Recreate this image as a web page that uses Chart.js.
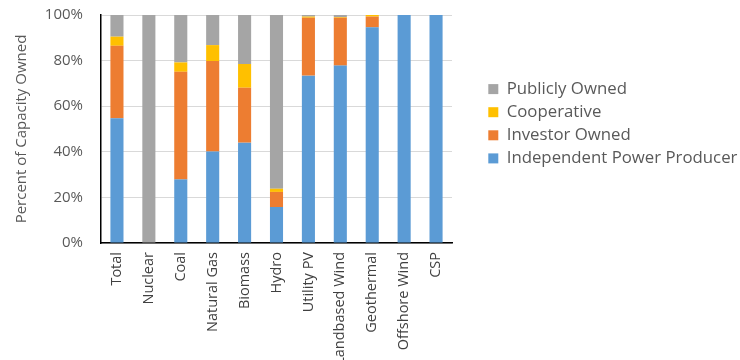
<!DOCTYPE html>
<html>
<head>
<meta charset="utf-8">
<script src="https://cdn.jsdelivr.net/npm/chart.js@4/dist/chart.umd.min.js"></script>
<style>
  html, body { margin: 0; padding: 0; background: #fff; }
  #wrap { width: 740px; height: 360px; position: relative; overflow: hidden; }
</style>
</head>
<body>
<div id="wrap"><canvas id="ownChart"></canvas></div>
<script>
/* Ownership share of capacity by technology (stacked to 100%) */
const categories = ["Total", "Nuclear", "Coal", "Natural Gas", "Biomass", "Hydro", "Utility PV", "Landbased Wind", "Geothermal", "Offshore Wind", "CSP"];
const independentPower = [54.7, 0, 27.9, 40.1, 44.0, 15.8, 73.4, 77.8, 94.6, 100, 100];
const investorOwned    = [31.8, 0, 47.2, 39.7, 24.1, 6.6, 25.4, 21.0, 4.7, 0, 0];
const cooperative      = [4.0, 0, 4.1, 7.0, 10.4, 1.4, 0.5, 0.3, 0.7, 0, 0];
const publiclyOwned    = [9.5, 100, 20.8, 13.2, 21.5, 76.2, 0.7, 0.9, 0, 0, 0];
const yTicks = [0, 20, 40, 60, 80, 100];

const FONT = "'Open Sans', sans-serif";
const GREY_TEXT = "#595959";

const ds = (label, data, color) => ({
  label, data, backgroundColor: color, borderWidth: 0,
  barPercentage: 0.41, categoryPercentage: 1,
});

new Chart(document.getElementById("ownChart"), {
  type: "bar",
  data: {
    labels: categories,
    datasets: [
      ds("Independent Power Producer", independentPower, "#5B9BD5"),
      ds("Investor Owned", investorOwned, "#ED7D31"),
      ds("Cooperative", cooperative, "#FFC000"),
      ds("Publicly Owned", publiclyOwned, "#A5A5A5"),
    ]
  },
  options: {
    responsive: true, maintainAspectRatio: false, animation: false,
    layout: { padding: { top: 3, right: 0, bottom: 0, left: 0 } },
    plugins: {
      tooltip: { enabled: false },
      legend: {
        position: "right", reverse: true, align: "start", maxWidth: 258,
        // empty title only pushes the items down
        title: { display: true, text: "", padding: { top: 57, bottom: 0 } },
        labels: { boxWidth: 10, boxHeight: 10, padding: 6.3, color: GREY_TEXT, font: { family: FONT, size: 16.8 } }
      }
    },
    scales: {
      x: {
        stacked: true,
        grid: { display: false, drawTicks: false },
        border: { color: "#000", width: 1.5 },
        ticks: { autoSkip: false, minRotation: 90, maxRotation: 90, padding: 9, color: "#404040", font: { family: FONT, size: 14.5 } },
        afterFit: s => { s.height = 117; }
      },
      y: {
        stacked: true, min: 0, max: 100,
        afterBuildTicks: s => { s.ticks = yTicks.map(v => ({ value: v })); },
        grid: { color: "#D9D9D9", tickLength: 12, tickColor: "transparent" },
        border: { color: "#000", width: 1.5 },
        ticks: { padding: 6, color: GREY_TEXT, font: { family: FONT, size: 15 }, callback: v => v + "%" },
        title: { display: true, text: "Percent of Capacity Owned", color: GREY_TEXT, padding: { top: 13, bottom: 0 }, font: { family: FONT, size: 15 } },
        afterFit: s => { s.width = 101; }
      },
      // empty space between plot and legend
      gap: {
        position: "right", display: true,
        grid: { display: false, drawTicks: false }, border: { display: false }, ticks: { display: false },
        afterFit: s => { s.width = 30; }
      }
    }
  }
});
</script>
</body>
</html>
